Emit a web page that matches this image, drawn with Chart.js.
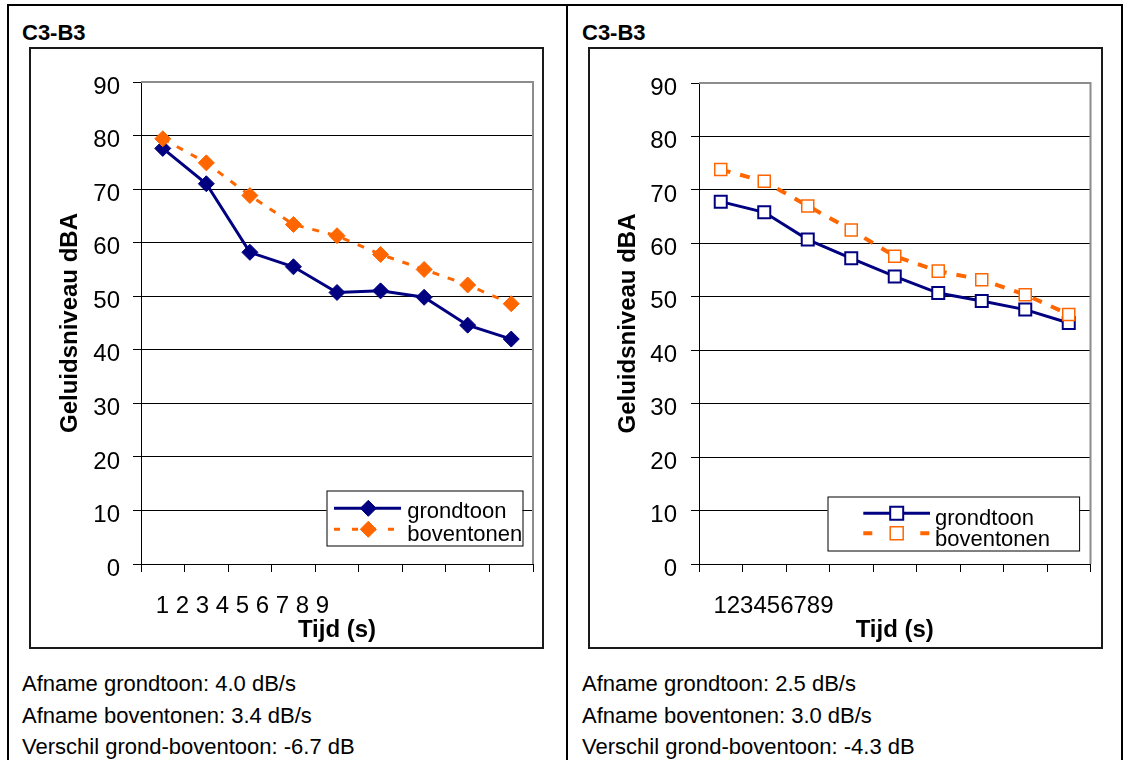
<!DOCTYPE html>
<html>
<head>
<meta charset="utf-8">
<script src="https://cdn.jsdelivr.net/npm/chart.js@4.4.1/dist/chart.umd.min.js"></script>
<style>
body { margin: 0; background: #fff; font-family: Arial, "Liberation Sans", sans-serif; color: #000; }
#page { position: relative; width: 1129px; height: 760px; overflow: hidden; }
.rule { position: absolute; background: #000; }
.title { position: absolute; top: 22px; font-size: 22px; line-height: 22px; font-weight: bold; }
.box { position: absolute; top: 47px; width: 511px; height: 598px; border: 2px solid #1a1a1a; }
.box canvas { display: block; }
.stats { position: absolute; top: 668px; font-size: 22px; line-height: 31.5px; white-space: nowrap; }
</style>
</head>
<body>
<div id="page">
  <div class="rule" style="left:7px; top:4px; width:1116px; height:2px;"></div>
  <div class="rule" style="left:7px; top:4px; width:2px; height:760px;"></div>
  <div class="rule" style="left:566px; top:4px; width:2px; height:760px;"></div>
  <div class="rule" style="left:1121px; top:4px; width:2px; height:760px;"></div>

  <div class="title" style="left:22px;">C3-B3</div>
  <div class="box" style="left:29px;"><canvas id="chartLeft" width="511" height="598"></canvas></div>
  <div class="stats" style="left:22px;">
    Afname grondtoon: 4.0 dB/s<br>
    Afname boventonen: 3.4 dB/s<br>
    Verschil grond-boventoon: -6.7 dB
  </div>

  <div class="title" style="left:582px;">C3-B3</div>
  <div class="box" style="left:588px;"><canvas id="chartRight" width="511" height="598"></canvas></div>
  <div class="stats" style="left:582px;">
    Afname grondtoon: 2.5 dB/s<br>
    Afname boventonen: 3.0 dB/s<br>
    Verschil grond-boventoon: -4.3 dB
  </div>
</div>

<script>
// meetpunten per seconde, geluidsniveau in dBA
const times = ['1', '2', '3', '4', '5', '6', '7', '8', '9'];
const seriesNames = ['grondtoon', 'boventonen'];

const grondLeft = [77.6, 71.0, 58.2, 55.5, 50.7, 51.0, 49.8, 44.6, 42.0];
const bovenLeft = [79.4, 74.9, 68.8, 63.4, 61.3, 57.8, 55.0, 52.1, 48.6];

const grondRight = [67.8, 65.8, 60.7, 57.2, 53.8, 50.7, 49.2, 47.6, 45.1];
const bovenRight = [73.8, 71.6, 67.0, 62.5, 57.6, 54.8, 53.2, 50.4, 46.7];

const yMin = 0, yMax = 90, yStep = 10;

const NAVY = '#000080';
const ORANGE = '#ff6600';
const FONT = 'Arial, "Liberation Sans", sans-serif';

// grey frame on top and right side of the plot area
const plotFrame = {
  id: 'plotFrame',
  beforeDatasetsDraw(chart) {
    const ctx = chart.ctx, a = chart.chartArea;
    ctx.save();
    ctx.strokeStyle = '#8c8c8c';
    ctx.lineWidth = 2;
    ctx.beginPath();
    ctx.moveTo(a.left, a.top);
    ctx.lineTo(a.right, a.top);
    ctx.lineTo(a.right, a.bottom);
    ctx.stroke();
    ctx.restore();
  }
};

// category labels all bunched up under the first few ticks
const squeezedLabels = {
  id: 'squeezedLabels',
  afterDraw(chart, args, opts) {
    const ctx = chart.ctx;
    ctx.save();
    ctx.font = '24px ' + FONT;
    ctx.fillStyle = '#000';
    ctx.textAlign = 'left';
    ctx.textBaseline = 'alphabetic';
    ctx.fillText(chart.data.labels.join(opts.sep), opts.x, opts.y);
    ctx.restore();
  }
};

function drawMarker(ctx, ds, x, y, size) {
  ctx.beginPath();
  if (ds.pointStyle === 'rectRot') {
    ctx.moveTo(x - size, y);
    ctx.lineTo(x, y - size);
    ctx.lineTo(x + size, y);
    ctx.lineTo(x, y + size);
    ctx.closePath();
  } else {
    ctx.rect(x - size, y - size, size * 2, size * 2);
  }
  ctx.fillStyle = ds.pointBackgroundColor;
  ctx.fill();
  ctx.strokeStyle = ds.pointBorderColor;
  ctx.lineWidth = ds.pointBorderWidth;
  ctx.stroke();
}

// boxed legend inside the plot area
const boxLegend = {
  id: 'boxLegend',
  afterDatasetsDraw(chart, args, o) {
    const ctx = chart.ctx;
    ctx.save();
    ctx.fillStyle = '#fff';
    ctx.fillRect(o.box[0], o.box[1], o.box[2], o.box[3]);
    ctx.strokeStyle = '#000';
    ctx.lineWidth = 1;
    ctx.strokeRect(o.box[0] + 0.5, o.box[1] + 0.5, o.box[2], o.box[3]);
    chart.data.datasets.forEach((ds, i) => {
      const y = o.rows[i];
      ctx.strokeStyle = ds.borderColor;
      ctx.lineWidth = ds.borderWidth;
      ctx.setLineDash(o.dash[i]);
      ctx.beginPath();
      ctx.moveTo(o.line[0], y);
      ctx.lineTo(o.line[1], y);
      ctx.stroke();
      ctx.setLineDash([]);
      drawMarker(ctx, ds, o.mark, y, o.size);
      ctx.fillStyle = '#000';
      ctx.font = '22px ' + FONT;
      ctx.textBaseline = 'alphabetic';
      ctx.fillText(ds.label, o.textX, o.text[i]);
    });
    ctx.restore();
  }
};

function makeConfig(grond, boven, look) {
  return {
    type: 'line',
    data: {
      labels: times,
      datasets: [{
        label: seriesNames[0],
        data: grond,
        borderColor: NAVY,
        backgroundColor: NAVY,
        borderWidth: 3,
        pointStyle: look.marker,
        pointRadius: look.radius,
        pointBackgroundColor: look.hollow ? '#fff' : NAVY,
        pointBorderColor: NAVY,
        pointBorderWidth: look.hollow ? 2 : 1,
        tension: 0,
        order: 2
      }, {
        label: seriesNames[1],
        data: boven,
        borderColor: ORANGE,
        backgroundColor: ORANGE,
        borderWidth: look.dashWidth,
        borderDash: look.dash,
        pointStyle: look.marker,
        pointRadius: look.radius,
        pointBackgroundColor: look.hollow ? '#fff' : ORANGE,
        pointBorderColor: ORANGE,
        pointBorderWidth: look.hollow ? 1.5 : 1,
        tension: 0,
        order: 1
      }]
    },
    options: {
      responsive: false,
      animation: false,
      events: [],
      layout: { padding: { left: 0, top: look.top, right: look.right, bottom: 0 } },
      scales: {
        x: {
          type: 'category',
          offset: true,
          afterFit: s => { s.height = 83; },
          grid: { offset: true, drawOnChartArea: false, drawTicks: true, tickLength: 8, color: '#000' },
          border: { color: '#000', width: 1 },
          ticks: { display: false },
          title: {
            display: true,
            text: 'Tijd (s)',
            color: '#000',
            font: { family: FONT, size: 24, weight: 'bold', lineHeight: 1.2 },
            padding: { top: 0, bottom: 2 }
          }
        },
        y: {
          min: yMin,
          max: yMax,
          afterFit: s => { s.width = look.yWidth; },
          grid: { color: '#000', lineWidth: 1, drawTicks: true, tickLength: 8 },
          border: { color: '#000', width: 1 },
          ticks: {
            stepSize: yStep,
            color: '#000',
            padding: look.tickPad,
            labelOffset: 5,
            font: { family: FONT, size: 24 }
          },
          title: {
            display: true,
            text: 'Geluidsniveau dBA',
            color: '#000',
            font: { family: FONT, size: 24, weight: 'bold', lineHeight: 1.2 },
            padding: { top: look.titlePad, bottom: 0 }
          }
        }
      },
      plugins: {
        legend: { display: false },
        tooltip: { enabled: false },
        squeezedLabels: look.labels,
        boxLegend: look.legend
      }
    },
    plugins: [plotFrame, squeezedLabels, boxLegend]
  };
}

const lookLeft = {
  marker: 'rectRot', radius: 8, hollow: false,
  dash: [7, 9], dashWidth: 3,
  top: 33, right: 9, yWidth: 110, tickPad: 13, titlePad: 25,
  labels: { sep: ' ', x: 124.7, y: 564.3 },
  legend: {
    box: [295.5, 441.5, 196, 55],
    line: [303, 370], mark: 337.3, size: 8,
    rows: [459.3, 480.3], text: [469, 491.7], textX: 376.3,
    dash: [[], [6, 12]]
  }
};

const lookRight = {
  marker: 'rect', radius: 8.5, hollow: true,
  dash: [10, 10], dashWidth: 4,
  top: 34, right: 5, yWidth: 109, tickPad: 14, titlePad: 24,
  labels: { sep: '', x: 123.4, y: 563.7 },
  legend: {
    box: [237.5, 447.5, 251.6, 54],
    line: [273.3, 340], mark: 306.7, size: 6.5,
    rows: [464.3, 484.3], text: [476, 496.7], textX: 345,
    dash: [[], [9, 48]]
  }
};

function start() {
  var ctx = document.getElementById('chartLeft').getContext('2d');
  var leftChart = new Chart(ctx, makeConfig(grondLeft, bovenLeft, lookLeft));

  var ctx2 = document.getElementById('chartRight').getContext('2d');
  var rightChart = new Chart(ctx2, makeConfig(grondRight, bovenRight, lookRight));
}

window.onload = start;
</script>
</body>
</html>
